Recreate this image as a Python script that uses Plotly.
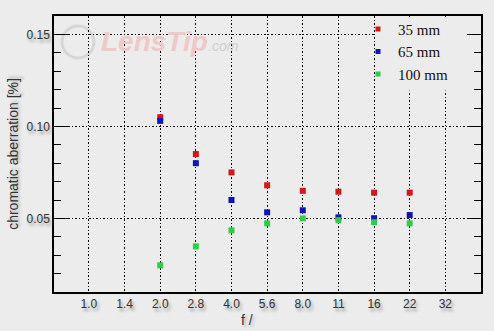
import plotly.graph_objects as go

apertures = ["1.0", "1.4", "2.0", "2.8", "4.0", "5.6", "8.0", "11", "16", "22", "32"]
measured = ["2.0", "2.8", "4.0", "5.6", "8.0", "11", "16", "22"]
ca_35mm = [0.105, 0.085, 0.075, 0.068, 0.065, 0.0645, 0.064, 0.064]
ca_65mm = [0.103, 0.080, 0.060, 0.0533, 0.0544, 0.0506, 0.0501, 0.0518]
ca_100mm = [0.0245, 0.0348, 0.0435, 0.0473, 0.050, 0.049, 0.0479, 0.0473]
series_names = ["35 mm", "65 mm", "100 mm"]
series_colors = ["#d9141b", "#1414b4", "#2ecc4a"]

idx = {a: i for i, a in enumerate(apertures)}
xs = [idx[a] for a in measured]

BG = "#ececec"
fig = go.Figure()
for name, vals, col in zip(series_names, [ca_35mm, ca_65mm, ca_100mm], series_colors):
    fig.add_trace(go.Scatter(x=xs, y=vals, mode="markers", showlegend=False,
                             marker=dict(symbol="square", size=6, color=col, line=dict(width=0))))
for name, col in zip(series_names, series_colors):
    fig.add_trace(go.Scatter(x=[None], y=[None], mode="markers", name=name,
                             marker=dict(symbol="square", size=5, color=col, line=dict(width=0))))
# invisible trace so the right-hand tick axis is drawn
fig.add_trace(go.Scatter(x=[None], y=[None], yaxis="y2", showlegend=False, hoverinfo="skip"))

tickfont = dict(family="Liberation Sans, Arial", size=12, color="#333333",
                shadow="2px 3px 3px #9a9a9a")
DOT = "1.5px,2px"

common_y = dict(range=[0.01, 0.16], tick0=0.05, dtick=0.05,
                ticks="inside", ticklen=14, tickcolor="black", tickwidth=1.2,
                minor=dict(dtick=0.01, tick0=0.0, ticks="inside", ticklen=7, tickcolor="black",
                           tickwidth=1.2, showgrid=False),
                zeroline=False)

fig.update_layout(
    width=494, height=331,
    margin=dict(l=54, r=13, t=16, b=39),
    paper_bgcolor=BG, plot_bgcolor=BG,
    xaxis=dict(range=[-0.98, 11.0], tickmode="array", tickvals=list(range(len(apertures))),
               ticktext=apertures, showline=True, linecolor="black", linewidth=1.5, mirror=True,
               ticks="", showgrid=True, gridcolor="black", gridwidth=1, griddash=DOT,
               zeroline=False, tickfont=tickfont),
    yaxis=dict(**common_y, tickformat=".2f",
               showline=True, linecolor="black", linewidth=1.5, mirror=True,
               showgrid=True, gridcolor="black", gridwidth=1, griddash=DOT,
               tickfont=tickfont,
               title=dict(text="chromatic aberration [%]", standoff=5,
                          font=dict(family="Liberation Sans, Arial", size=14, color="#333333",
                                    shadow="2px 2px 3px #b0b0b0"))),
    yaxis2=dict(**common_y, overlaying="y", side="right", showticklabels=False,
                showgrid=False, showline=False),
    legend=dict(x=(358 - 54) / 427, y=1.012, xanchor="left", yanchor="top", bgcolor="rgba(0,0,0,0)",
                font=dict(family="Liberation Serif, DejaVu Serif", size=15, color="#111111"),
                itemwidth=30, tracegroupgap=0),
    showlegend=True,
)

# legend background covering gridlines
fig.add_shape(type="rect", xref="x", yref="y", x0=8.05, x1=10.75, y0=0.1195, y1=0.1595,
              fillcolor=BG, line=dict(width=0), layer="between")

# watermark
fig.add_shape(type="circle", xref="paper", yref="paper",
              x0=(62 - 54) / 427, x1=(94 - 54) / 427, y0=(292 - 58) / 276, y1=(292 - 26) / 276,
              line=dict(color="#d6d6d6", width=3), fillcolor="rgba(0,0,0,0)", layer="below")
fig.add_annotation(xref="paper", yref="paper", x=(99 - 54) / 427, y=(292 - 42) / 276,
                   text="<b><i>LensTip</i></b>", showarrow=False, xanchor="left", yanchor="middle",
                   font=dict(family="Liberation Sans, Arial", size=28, color="#efc8c8"))
fig.add_annotation(xref="paper", yref="paper", x=(206 - 54) / 427, y=(292 - 46) / 276,
                   text="<i>.com</i>", showarrow=False, xanchor="left", yanchor="middle",
                   font=dict(family="Liberation Sans, Arial", size=14, color="#d0d0d0"))

# x title
fig.add_annotation(xref="paper", yref="paper", x=(247 - 54) / 427, y=(292 - 320) / 276,
                   text="f /", showarrow=False, xanchor="center", yanchor="middle",
                   font=dict(family="Liberation Sans, Arial", size=14, color="#333333",
                             shadow="2px 2px 3px #b0b0b0"))

fig.write_html("out.html")
